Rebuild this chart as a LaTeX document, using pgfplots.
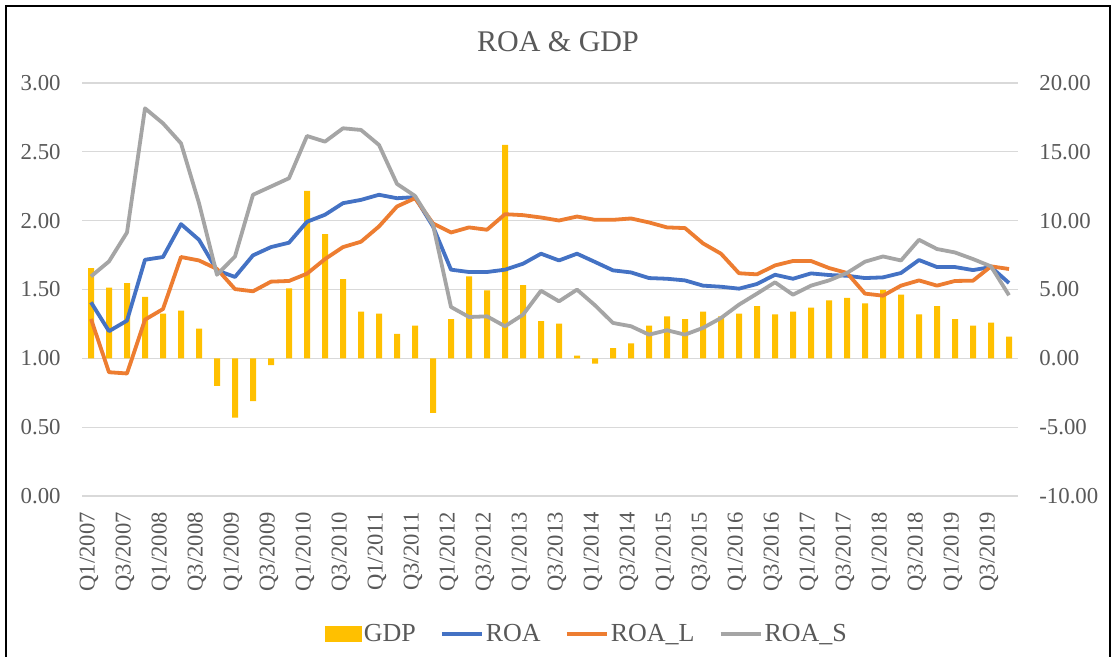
\documentclass[border=0pt]{standalone}
\usepackage{pgfplots}
\usepackage{pgfplotstable}
\usepackage{fontspec}
\setmainfont{Liberation Serif}
\pgfplotsset{compat=1.18}
\definecolor{gdpc}{HTML}{FFC000}
\definecolor{roac}{HTML}{4472C4}
\definecolor{roalc}{HTML}{ED7D31}
\definecolor{roasc}{HTML}{A5A5A5}
\definecolor{txt}{HTML}{595959}
\definecolor{gridc}{HTML}{D9D9D9}

\pgfplotstableread{
i gdp
0 6.55
1 5.13
2 5.47
3 4.47
4 3.24
5 3.46
6 2.15
7 -2.00
8 -4.30
9 -3.10
10 -0.50
11 5.08
12 12.16
13 9.02
14 5.76
15 3.39
16 3.24
17 1.77
18 2.37
19 -3.97
20 2.85
21 5.95
22 4.93
23 15.50
24 5.32
25 2.71
26 2.52
27 0.19
28 -0.39
29 0.75
30 1.09
31 2.37
32 3.05
33 2.85
34 3.39
35 3.05
36 3.24
37 3.80
38 3.19
39 3.39
40 3.68
41 4.21
42 4.40
43 3.99
44 4.98
45 4.62
46 3.19
47 3.80
48 2.85
49 2.37
50 2.59
51 1.57
}\gdptable

\pgfplotstableread{
i roa roal roas
0 1.407 1.286 1.595
1 1.197 0.899 1.704
2 1.274 0.890 1.914
3 1.716 1.281 2.816
4 1.736 1.358 2.707
5 1.975 1.736 2.562
6 1.861 1.711 2.127
7 1.639 1.649 1.607
8 1.591 1.503 1.740
9 1.748 1.487 2.188
10 1.808 1.557 2.248
11 1.840 1.562 2.308
12 1.992 1.615 2.615
13 2.043 1.721 2.574
14 2.127 1.808 2.671
15 2.151 1.847 2.659
16 2.188 1.958 2.550
17 2.163 2.103 2.267
18 2.171 2.163 2.180
19 1.958 1.980 1.970
20 1.644 1.914 1.373
21 1.627 1.951 1.300
22 1.627 1.934 1.305
23 1.644 2.047 1.233
24 1.687 2.040 1.317
25 1.760 2.023 1.491
26 1.711 2.001 1.414
27 1.760 2.030 1.499
28 1.700 2.006 1.385
29 1.639 2.006 1.257
30 1.624 2.016 1.233
31 1.583 1.987 1.172
32 1.578 1.951 1.204
33 1.566 1.946 1.172
34 1.528 1.835 1.221
35 1.520 1.760 1.293
36 1.506 1.618 1.390
37 1.540 1.610 1.470
38 1.607 1.675 1.552
39 1.578 1.707 1.462
40 1.617 1.707 1.528
41 1.605 1.656 1.566
42 1.600 1.620 1.620
43 1.583 1.470 1.702
44 1.588 1.455 1.740
45 1.620 1.528 1.711
46 1.714 1.566 1.861
47 1.663 1.528 1.794
48 1.663 1.562 1.769
49 1.641 1.564 1.721
50 1.663 1.668 1.668
51 1.547 1.649 1.458
}\roatable

\begin{document}
\begin{tikzpicture}
\useasboundingbox (0,0) rectangle (557pt,328.5pt);
\fill[white] (0,0) rectangle (557pt,328.5pt);
\draw[black, line width=1pt] (3pt,0) -- (3pt,325.5pt) -- (555pt,325.5pt) -- (555pt,0);
\node[text=txt, font=\fontsize{15}{18}\selectfont] at (279pt,307.5pt) {ROA \& GDP};

% right axis: GDP bars + grid
\begin{axis}[
  at={(41pt,80.5pt)}, anchor=south west,
  scale only axis, width=468pt, height=206.5pt,
  xmin=-0.5, xmax=51.5, ymin=-10, ymax=20,
  axis y line*=right, axis x line=none,
  axis line style={draw=none},
  major tick length=0pt,
  ytick={-10,-5,...,20},
  ymajorgrids, grid style={gridc, line width=0.6pt},
  /pgf/number format/assume math mode=true,
  yticklabel style={text=txt, font=\fontsize{11.4}{13}\selectfont,
    /pgf/number format/fixed, /pgf/number format/fixed zerofill,
    /pgf/number format/precision=2, inner sep=0pt, xshift=10.5pt},
  ybar, bar width=3pt, bar shift=0pt,
]
\addplot[fill=gdpc, draw=none] table[x=i, y=gdp] {\gdptable};
\end{axis}

% left axis: ROA lines
\begin{axis}[
  at={(41pt,80.5pt)}, anchor=south west,
  scale only axis, width=468pt, height=206.5pt,
  xmin=-0.5, xmax=51.5, ymin=0, ymax=3,
  axis y line*=left, axis x line*=bottom,
  axis line style={draw=none},
  major tick length=0pt,
  ytick={0,0.5,...,3},
  /pgf/number format/assume math mode=true,
  yticklabel style={text=txt, font=\fontsize{11.4}{13}\selectfont,
    /pgf/number format/fixed, /pgf/number format/fixed zerofill,
    /pgf/number format/precision=2, inner sep=0pt, xshift=-10.5pt},
  xtick={0,2,...,50},
  xticklabels={Q1/2007,Q3/2007,Q1/2008,Q3/2008,Q1/2009,Q3/2009,Q1/2010,Q3/2010,Q1/2011,Q3/2011,Q1/2012,Q3/2012,Q1/2013,Q3/2013,Q1/2014,Q3/2014,Q1/2015,Q3/2015,Q1/2016,Q3/2016,Q1/2017,Q3/2017,Q1/2018,Q3/2018,Q1/2019,Q3/2019},
  xticklabel style={text=txt, font=\fontsize{11.3}{13}\selectfont, yshift=-8pt, xshift=-1pt, rotate=90, anchor=east, inner sep=0pt},
  legend columns=4,
  legend style={draw=none, fill=none, at={(0.5395,-0.334)}, anchor=center,
    font=\fontsize{13}{15}\selectfont, text=txt,
    /tikz/every even column/.append style={column sep=11pt},
    nodes={inner sep=1pt}},
  legend image code/.code={\draw[#1, line width=2pt] (0pt,0pt) -- (20pt,0pt);},
]
\addlegendimage{legend image code/.code={\fill[gdpc] (0pt,-3.6pt) rectangle (18pt,3.6pt);}}
\addlegendentry{GDP}
\addplot[roac, line width=1.9pt, line join=round] table[x=i, y=roa] {\roatable};
\addlegendentry{ROA}
\addplot[roalc, line width=1.9pt, line join=round] table[x=i, y=roal] {\roatable};
\addlegendentry{ROA\_L}
\addplot[roasc, line width=1.9pt, line join=round] table[x=i, y=roas] {\roatable};
\addlegendentry{ROA\_S}
\end{axis}
\end{tikzpicture}
\end{document}
